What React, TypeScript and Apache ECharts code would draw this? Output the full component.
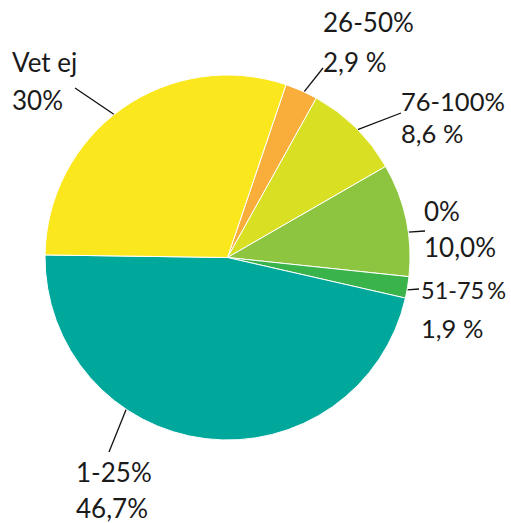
import React, { useEffect, useRef } from "react";
import * as echarts from "echarts";

// Data (clockwise from the 26-50% slice)
const categories = ["26-50%", "76-100%", "0%", "51-75\u2009%", "1-25%", "Vet ej"];
const values = [2.9, 8.6, 10.0, 1.9, 46.7, 30];
const valueLabels = ["2,9 %", "8,6 %", "10,0%", "1,9 %", "46,7%", "30%"];
const colors = ["#F9AE3C", "#D9DF22", "#8DC540", "#3AB34A", "#00A89C", "#FBE71E"];

// Layout constants (not data)
const CX = 227.5;
const CY = 257.5;
const R = 182.5;
const START_ANGLE = 71.3;
// per-label: angle of line start on rim (deg clockwise from 12 o'clock), line end, text top-left, line height
const labelAngle = [24.8, 45.5, 82, 100.2, 213.7, 321.6];
const labelLineEnd = [[323, 68], [401, 113], [425, 231], [419, 289], [109, 452], [75, 88]];
const labelPos = [[323, 2], [401, 85], [424, 193], [421, 271], [76, 454], [12, 43]];
const labelLineHeight = [40, 32, 36, 38, 36, 38];
const nameFontSize = [26, 25.5, 26, 23.5, 26, 26];
const valueFontSize = [26, 25.5, 26, 25.5, 26, 26];

export default function App() {
  const ref = useRef<HTMLDivElement>(null);
  useEffect(() => {
    document.body.style.margin = "0";
    const chart = echarts.init(ref.current!, null, { renderer: "svg" });
    chart.setOption({
      animation: false,
      backgroundColor: "#ffffff",
      series: [
        {
          type: "pie",
          center: [CX, CY],
          radius: [0, R],
          startAngle: START_ANGLE,
          clockwise: true,
          avoidLabelOverlap: false,
          itemStyle: { borderColor: "#ffffff", borderWidth: 1 },
          label: {
            show: true,
            position: "outside",
            fontFamily: "Lato",
            fontSize: 26,
            color: "#1a1a1a",
            formatter: (p: any) => "{n|" + p.name + "}\n{v|" + valueLabels[p.dataIndex] + "}",
          },
          labelLine: {
            show: true,
            length: 10,
            length2: 0,
            lineStyle: { color: "#111111", width: 1.3 },
          },
          labelLayout: (params: any) => {
            const i = params.dataIndex;
            const a = (labelAngle[i] * Math.PI) / 180;
            const start = [CX + R * Math.sin(a), CY - R * Math.cos(a)];
            return {
              x: labelPos[i][0],
              y: labelPos[i][1],
              align: "left",
              verticalAlign: "top",
              labelLinePoints: [start, labelLineEnd[i], labelLineEnd[i]],
            };
          },
          data: categories.map((name, i) => ({
            name,
            value: values[i],
            itemStyle: { color: colors[i] },
            label: {
              rich: {
                n: {
                  fontFamily: "Lato",
                  color: "#1a1a1a",
                  fontSize: nameFontSize[i],
                  lineHeight: labelLineHeight[i],
                },
                v: {
                  fontFamily: "Lato",
                  color: "#1a1a1a",
                  fontSize: valueFontSize[i],
                  lineHeight: labelLineHeight[i],
                },
              },
            },
          })),
        },
      ],
    });
    return () => chart.dispose();
  }, []);
  return <div ref={ref} style={{ width: 511, height: 523 }} />;
}
